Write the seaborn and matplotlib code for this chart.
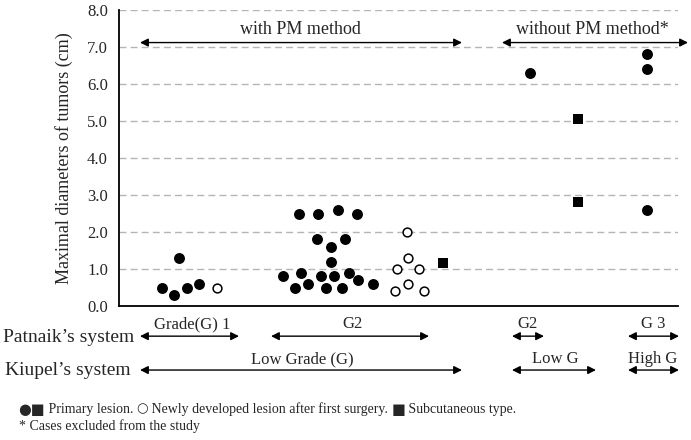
import pandas as pd
import matplotlib.pyplot as plt
import seaborn as sns

# tumour diameters (cm) and swarm positions (x in arbitrary units, 0-56)
primary_x = [4.3, 5.5, 6.8, 8.0, 6.0,
             16.4, 17.6, 18.2, 18.9, 18.0, 19.9, 21.9, 23.8, 19.8, 22.6,
             21.2, 21.2, 20.2, 20.7, 21.5, 22.3, 23.0, 23.9, 25.4,
             41.1, 52.8, 52.8, 52.8]
primary_y = [0.5, 0.3, 0.5, 0.6, 1.3,
             0.8, 0.5, 0.9, 0.6, 2.5, 2.5, 2.6, 2.5, 1.8, 1.8,
             1.6, 1.2, 0.8, 0.5, 0.8, 0.5, 0.9, 0.7, 0.6,
             6.3, 6.8, 6.4, 2.6]
new_x = [9.8, 28.8, 28.9, 27.8, 30.0, 28.9, 27.6, 30.5]
new_y = [0.5, 2.0, 1.3, 1.0, 1.0, 0.6, 0.4, 0.4]
subcut_x = [32.4, 45.9, 45.9]
subcut_y = [1.15, 5.05, 2.8]

yticks = [0, 1, 2, 3, 4, 5, 6, 7, 8]

# bracket labels: (text, x_start, x_end, text_x)
top_groups = [("with PM method", 2.1, 34.3, 18.1),
              ("without PM method*", 38.3, 56.9, 47.3)]
patnaik = [("Grade(G) 1", 2.1, 12.0, 7.3),
           ("G2", 15.2, 31.0, 23.3),
           ("G2", 39.3, 42.5, 40.9),
           ("G 3", 50.9, 56.0, 53.4)]
kiupel = [("Low Grade (G)", 2.1, 34.3, 18.3),
          ("Low G", 39.3, 47.7, 43.6),
          ("High G", 50.9, 56.0, 53.4)]

# footnote pieces: (text, fontsize, is_symbol)
note_line1 = [("\u25cf\u25a0", 10.5, True), (" Primary lesion. ", 10, False),
              ("\u25cb", 9.5, True),
              (" Newly developed lesion after first surgery. ", 10, False),
              ("\u25a0", 10.5, True), (" Subcutaneous type.", 10, False)]
note_line2 = "* Cases excluded from the study"

sns.set_style("white")
plt.rcParams['font.family'] = ['Liberation Serif', 'DejaVu Serif']

fig = plt.figure(figsize=(6.91, 4.40), dpi=100)
ax = fig.add_axes([119 / 691, 134 / 440, 559 / 691, 296 / 440])

df_p = pd.DataFrame({"x": primary_x, "y": primary_y})
df_n = pd.DataFrame({"x": new_x, "y": new_y})
df_s = pd.DataFrame({"x": subcut_x, "y": subcut_y})

sns.scatterplot(data=df_p, x="x", y="y", ax=ax, marker="o", s=62,
                color="black", edgecolor="black", linewidth=0, zorder=3)
sns.scatterplot(data=df_n, x="x", y="y", ax=ax, marker="o", s=40,
                facecolor="white", edgecolor="black", linewidth=1.1, zorder=3)
sns.scatterplot(data=df_s, x="x", y="y", ax=ax, marker="s", s=50,
                color="black", edgecolor="black", linewidth=0, zorder=3)

ax.set_xlim(0, 55.9)
ax.set_ylim(0, 8)
ax.set_yticks(yticks)
ax.set_yticklabels([f"{v:.1f}" for v in yticks], fontsize=12)
ax.set_xticks([])
ax.set_xlabel("")
ax.set_ylabel("Maximal diameters of tumors (cm)", fontsize=13, labelpad=10)
ax.tick_params(axis="y", length=0, pad=8)
for v in yticks[1:]:
    ax.axhline(v, color="#b5b5b5", lw=1, ls=(0, (5, 3)), zorder=1)
for side in ["top", "right"]:
    ax.spines[side].set_visible(False)
for side in ["left", "bottom"]:
    ax.spines[side].set_color("black")
    ax.spines[side].set_linewidth(1.3)

arrow = dict(arrowstyle="<|-|>", color="black", lw=1.0, mutation_scale=12,
             shrinkA=0, shrinkB=0)

for label, x0, x1, tx in top_groups:
    ax.annotate("", xy=(x0, 7.12), xytext=(x1, 7.12), arrowprops=arrow,
                annotation_clip=False)
    ax.text(tx, 7.47, label, ha="center", va="center", fontsize=13)

for rows, y_arrow, y_text in [(patnaik, 0.236, 0.263), (kiupel, 0.159, 0.184)]:
    for label, x0, x1, tx in rows:
        ax.annotate("", xy=(x0, y_arrow), xytext=(x1, y_arrow),
                    xycoords=("data", "figure fraction"),
                    textcoords=("data", "figure fraction"),
                    arrowprops=arrow, annotation_clip=False)
        ax.annotate(label, xy=(tx, y_text), xycoords=("data", "figure fraction"),
                    ha="center", va="center", fontsize=12, annotation_clip=False)

fig.text(3 / 691, 0.234, "Patnaik\u2019s system", fontsize=14, va="center", ha="left")
fig.text(5 / 691, 0.157, "Kiupel\u2019s system", fontsize=14, va="center", ha="left")

# footnote, laid out piece by piece so the symbols can be larger
renderer = fig.canvas.get_renderer()
x_px = 18
for piece, size, is_symbol in note_line1:
    fam = ['DejaVu Sans'] if is_symbol else ['Liberation Serif', 'DejaVu Serif']
    t = fig.text(x_px / 691, 1 - 409 / 440, piece, fontsize=size, family=fam,
                 va="center", ha="left")
    x_px += t.get_window_extent(renderer).width
fig.text(19 / 691, 1 - 426 / 440, note_line2, fontsize=10, va="center", ha="left")

fig.savefig("out.png", dpi=100)
